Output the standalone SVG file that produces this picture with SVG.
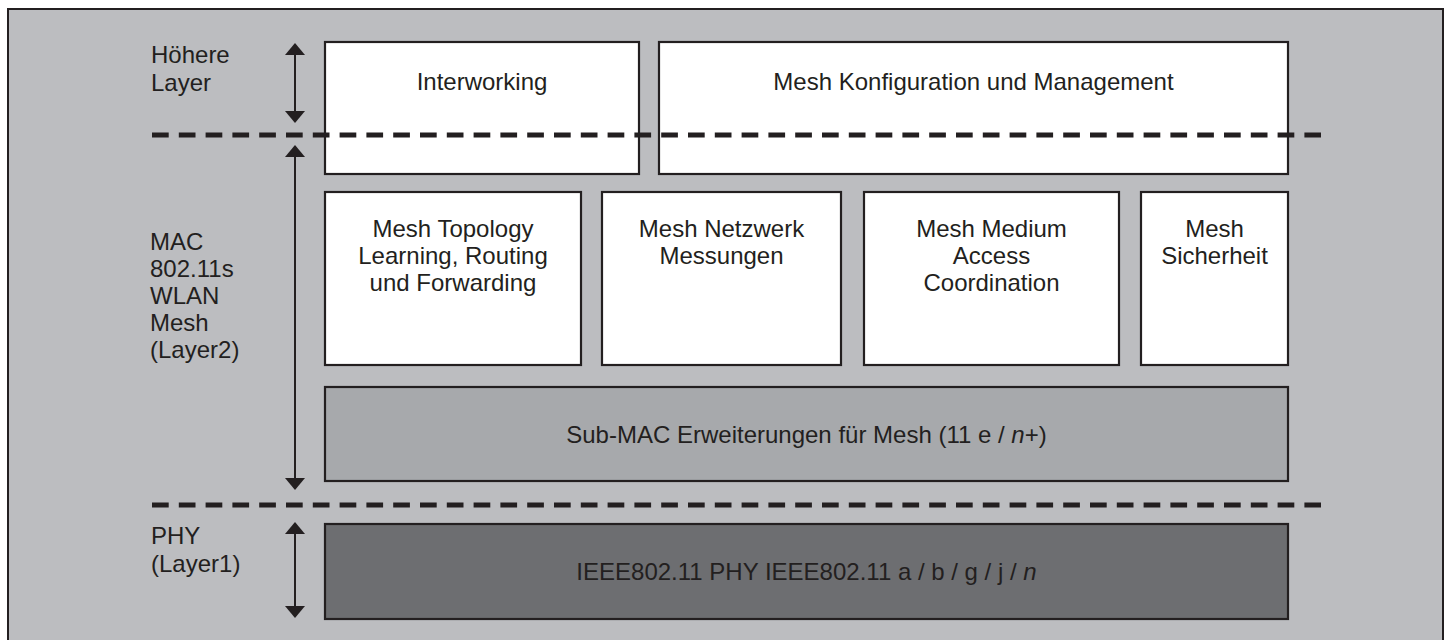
<svg xmlns="http://www.w3.org/2000/svg" width="1449" height="640" viewBox="0 0 1449 640">
  <defs>
    <style>
      .frame { fill: #bcbdc0; stroke: #231f20; stroke-width: 2; }
      .box { fill: #ffffff; stroke: #231f20; stroke-width: 2.2; }
      .sub { fill: #a7a9ac; stroke: #231f20; stroke-width: 2.2; }
      .phy { fill: #6d6e71; stroke: #231f20; stroke-width: 2.2; }
      text { font-family: "Liberation Sans", Arial, Helvetica, sans-serif; font-size: 24px; fill: #231f20; }
      .c { text-anchor: middle; }
      .dash { stroke: #231f20; stroke-width: 5; stroke-dasharray: 16.7 10.1; fill: none; }
      .shaft { stroke: #231f20; stroke-width: 2; fill: none; }
      .head { fill: #231f20; }
      .it { font-style: italic; }
    </style>
  </defs>

  <!-- background panel -->
  <rect class="frame" x="8" y="9" width="1435" height="640"/>

  <!-- layer labels -->
  <g id="label-hoehere">
    <text x="151" y="63">Höhere</text>
    <text x="151" y="91">Layer</text>
  </g>
  <g id="label-mac">
    <text x="150" y="250">MAC</text>
    <text x="150" y="277">802.11s</text>
    <text x="150" y="304">WLAN</text>
    <text x="150" y="331">Mesh</text>
    <text x="150" y="358">(Layer2)</text>
  </g>
  <g id="label-phy">
    <text x="151" y="544">PHY</text>
    <text x="151" y="572">(Layer1)</text>
  </g>

  <!-- upper layer -->
  <g id="interworking">
    <rect class="box" x="325" y="42" width="314" height="132"/>
    <text class="c" x="482" y="90">Interworking</text>
  </g>
  <g id="mesh-konfiguration">
    <rect class="box" x="659" y="42" width="629" height="132"/>
    <text class="c" x="973.5" y="90">Mesh Konfiguration und Management</text>
  </g>

  <!-- MAC layer functions -->
  <g id="mesh-topology">
    <rect class="box" x="325" y="192" width="256" height="173"/>
    <text class="c" x="453" y="237">Mesh Topology</text>
    <text class="c" x="453" y="264">Learning, Routing</text>
    <text class="c" x="453" y="291">und Forwarding</text>
  </g>
  <g id="mesh-netzwerk">
    <rect class="box" x="602" y="192" width="239" height="173"/>
    <text class="c" x="721.5" y="237">Mesh Netzwerk</text>
    <text class="c" x="721.5" y="264">Messungen</text>
  </g>
  <g id="mesh-medium">
    <rect class="box" x="864" y="192" width="255" height="173"/>
    <text class="c" x="991.5" y="237">Mesh Medium</text>
    <text class="c" x="991.5" y="264">Access</text>
    <text class="c" x="991.5" y="291">Coordination</text>
  </g>
  <g id="mesh-sicherheit">
    <rect class="box" x="1141" y="192" width="147" height="173"/>
    <text class="c" x="1214.5" y="237">Mesh</text>
    <text class="c" x="1214.5" y="264">Sicherheit</text>
  </g>

  <g id="sub-mac">
    <rect class="sub" x="325" y="387" width="963" height="94"/>
    <text class="c" x="806.5" y="443">Sub-MAC Erweiterungen für Mesh (11 e / <tspan class="it">n</tspan>+)</text>
  </g>

  <g id="phy">
    <rect class="phy" x="325" y="524" width="963" height="95"/>
    <text class="c" x="806.5" y="580">IEEE802.11 PHY IEEE802.11 a / b / g / j / <tspan class="it">n</tspan></text>
  </g>

  <!-- layer separators and extent arrows -->
  <g id="connectors">
    <line class="dash" x1="152" y1="135" x2="1321" y2="135"/>
    <line class="dash" x1="152" y1="505" x2="1321" y2="505"/>

    <line class="shaft" x1="295" y1="52" x2="295" y2="114"/>
    <polygon class="head" points="295,43 305,55 285,55"/>
    <polygon class="head" points="295,123 305,111 285,111"/>

    <line class="shaft" x1="295" y1="154" x2="295" y2="481"/>
    <polygon class="head" points="295,145 305,157 285,157"/>
    <polygon class="head" points="295,490 305,478 285,478"/>

    <line class="shaft" x1="295" y1="531" x2="295" y2="609"/>
    <polygon class="head" points="295,522 305,534 285,534"/>
    <polygon class="head" points="295,618 305,606 285,606"/>
  </g>
</svg>
